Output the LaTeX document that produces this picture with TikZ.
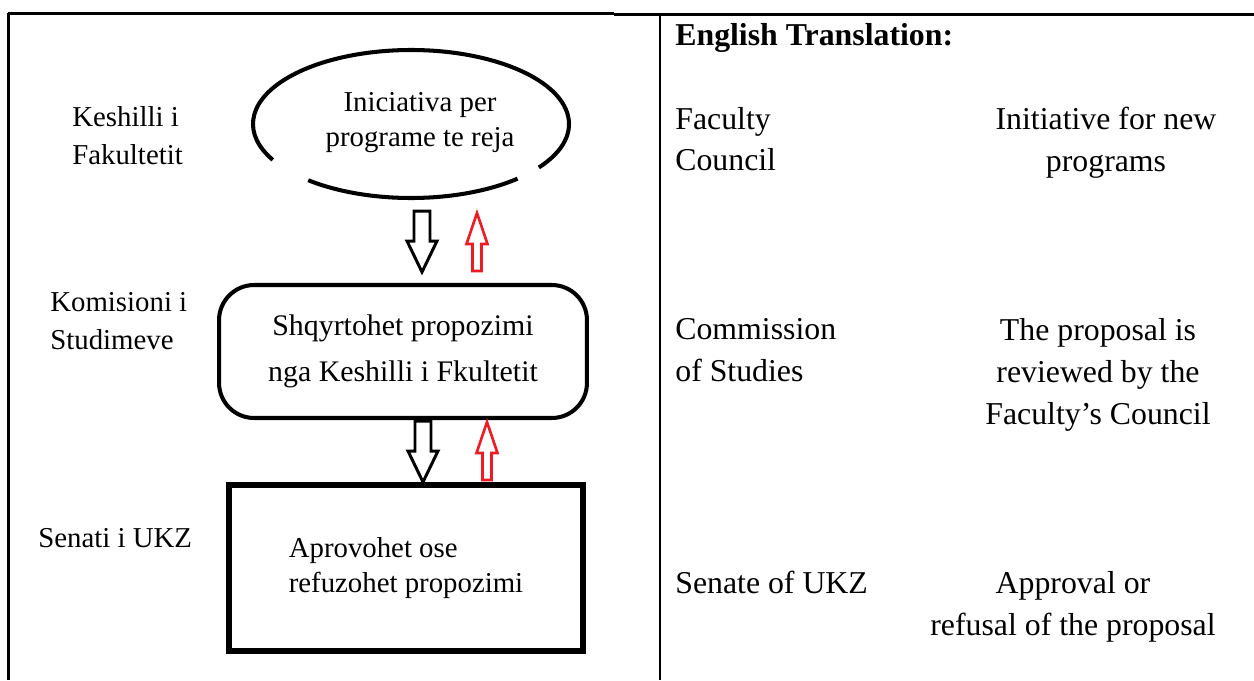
\documentclass[tikz,border=0pt]{standalone}
\usepackage{fontspec}
\setmainfont{Liberation Serif}
\usetikzlibrary{calc}
\definecolor{backred}{RGB}{237,28,36}

\tikzset{
  lbl/.style={inner sep=0, align=left, font=\fontsize{16.4}{21.3}\selectfont},
  eng/.style={inner sep=0, font=\fontsize{18.1}{23.8}\selectfont},
  engb/.style={inner sep=0, font=\bfseries\fontsize{18.1}{23.8}\selectfont},
  stage/.style={draw, outer sep=0, inner sep=0},
  downarr/.pic={\draw[pic actions] (0,0) -- (-15,-31) -- (-8,-31) -- (-8,-61) -- (8,-61) -- (8,-31) -- (15,-31) -- cycle;},
  uparr/.pic={\draw[pic actions] (0,0) -- (-10.5,31) -- (-4.5,31) -- (-4.5,58) -- (4.5,58) -- (4.5,31) -- (10.5,31) -- cycle;}
}

\begin{document}
\begin{tikzpicture}[x=0.02cm, y=-0.02cm]

\useasboundingbox (0,0) rectangle (1254,680);

%% Table frame
\draw [line width=1.2pt] (8,13.5) -- (614,13.5);
\draw [line width=1.6pt] (614,14.5) -- (1254,14.5);
\draw [line width=1.4pt] (8.6,13) -- (8.6,680);
\draw [line width=1.4pt] (660,13.5) -- (660,680);

%% Initiative (open ellipse)
\coordinate (ellc) at (411,124);
\draw [line width=2.3pt] (ellc) ++(36:158 and 74) arc[start angle=36, end angle=-209, x radius=158, y radius=74];
\draw [line width=2.3pt] (ellc) ++(47.6:158 and 74) arc[start angle=47.6, end angle=130.6, x radius=158, y radius=74];
\node [lbl, align=center, font=\fontsize{16.4}{19.8}\selectfont] (init) at (420,122.7) {Iniciativa per\\programe te reja};

%% Review and decision
\node [stage, line width=2.3pt, rounded corners=20pt, minimum width=7.36cm, minimum height=2.66cm, align=center, font=\fontsize{17}{26}\selectfont] (rev) at (403,351.5) {Shqyrtohet propozimi\\nga Keshilli i Fkultetit};
\node [stage, line width=3.1pt, minimum width=7.08cm, minimum height=3.32cm, align=left, font=\fontsize{16.4}{20.4}\selectfont] (dec) at (406,568) {Aprovohet ose\\refuzohet propozimi};

%% Bodies
\node [lbl, anchor=west] (kf) at (72,135.6) {Keshilli i\\Fakultetit};
\node [lbl, anchor=west] (ks) at (50,321) {Komisioni i\\Studimeve};
\node [lbl, anchor=base west] (su) at (38,547) {Senati i UKZ};

%% Forward and back arrows
\pic [draw=black, line width=1.7pt] at ($(rev.north)+(19,-13)$) {downarr};
\pic [draw=backred, line width=1.5pt] at ($(rev.north)+(74,-72)$) {uparr};
\pic [draw=black, line width=1.7pt] at ($(dec.north)+(17,-3)$) {downarr};
\pic [draw=backred, line width=1.5pt] at ($(dec.north)+(81,-63)$) {uparr};

%% English translation
\node [engb, anchor=base west] (head) at (675,45) {English Translation:};
\node [eng, align=left, anchor=west] (fc) at (675,139.2) {Faculty\\Council};
\node [eng, align=center] (fi) at (1106,142.5) {Initiative for new\\programs};
\node [eng, align=left, anchor=west] (cs) at (675,350.3) {Commission\\of Studies};
\node [eng, align=center] (cr) at (1098,375) {The proposal is\\reviewed by the\\Faculty’s Council};
\node [eng, anchor=base west] (se) at (675,593) {Senate of UKZ};
\node [eng, align=center] (sa) at (1073,606.5) {Approval or\\refusal of the proposal};

\end{tikzpicture}
\end{document}
